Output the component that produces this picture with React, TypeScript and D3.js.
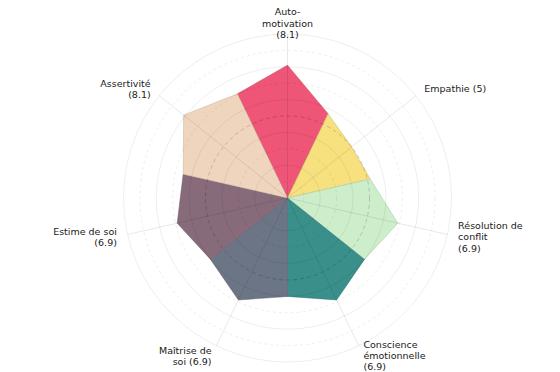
import React from 'react';
import * as d3 from 'd3';

// one wedge per competence, clockwise from the top
const categories = [
  'Auto-motivation',
  'Empathie',
  'Résolution de conflit',
  'Conscience émotionnelle',
  'Maîtrise de soi',
  'Estime de soi',
  'Assertivité',
];
const scores = [8.1, 5, 6.9, 6.9, 6.9, 6.9, 8.1];
const colors = ['#ee5577', '#f7e07e', '#cdeecb', '#3a8f8a', '#6c7586', '#876b7a', '#f0d5be'];
const rings = [1, 2, 3, 4, 5, 6, 7, 8, 9, 10];

const size = { width: 560, height: 372, cx: 287.5, cy: 198, radius: 164, labelRadius: 175 };
const notch = 0.87; // wedges meet a bit inside the straight chord

// wrap name at ~13 chars, then put the score on the last line if it fits
function wrapLabel(name: string, value: number): string[] {
  const words = name.replace(/-/g, '- ').split(' ').filter(Boolean);
  const lines: string[] = [];
  let cur = '';
  words.forEach(w => {
    const sep = cur === '' || cur.endsWith('-') ? '' : ' ';
    if ((cur + sep + w).length <= 13) cur = cur + sep + w;
    else {
      lines.push(cur);
      cur = w;
    }
  });
  lines.push(cur);
  const tail = `(${value})`;
  const last = lines[lines.length - 1];
  if ((last + ' ' + tail).length <= 12) lines[lines.length - 1] = last + ' ' + tail;
  else lines.push(tail);
  return lines;
}

function App() {
  const n = categories.length;
  const step = (2 * Math.PI) / n;
  const r = d3.scaleLinear().domain([0, 10]).range([0, size.radius]);
  const angle = d3.scaleLinear().domain([0, n]).range([0, 2 * Math.PI]);

  const radial = d3
    .lineRadial<[number, number]>()
    .angle(d => d[0])
    .radius(d => d[1])
    .curve(d3.curveLinearClosed);

  const wedges = scores.map((v, i) => {
    const prev = scores[(i - 1 + n) % n];
    const next = scores[(i + 1) % n];
    const a = angle(i);
    const pts: [number, number][] = [
      [a, 0],
      [a - step / 2, r(((prev + v) / 2) * notch)],
      [a, r(v)],
      [a + step / 2, r(((v + next) / 2) * notch)],
    ];
    return radial(pts)!;
  });

  const fontSize = 9.5;
  const lineH = 11.2;

  return (
    <svg
      width={size.width}
      height={size.height}
      style={{ position: 'absolute', left: 0, top: 0, background: '#fff' }}
      fontFamily="DejaVu Sans"
    >
      <g transform={`translate(${size.cx},${size.cy})`}>
        {wedges.map((d, i) => (
          <path
            key={categories[i]}
            d={d}
            fill={colors[i]}
            stroke={d3.color(colors[i])!.darker(0.6).toString()}
            strokeOpacity={0.6}
            strokeWidth={0.8}
            strokeLinejoin="miter"
          />
        ))}

        {rings.map(t => (
          <circle
            key={t}
            r={r(t)}
            fill="none"
            stroke={t === 5 ? 'rgba(0,0,0,0.17)' : 'rgba(0,0,0,0.07)'}
            strokeWidth={1}
            strokeDasharray={t % 2 === 1 ? (t === 5 ? '4,3' : '3,3') : undefined}
          />
        ))}

        {categories.map((c, i) => {
          const a = angle(i);
          return (
            <line
              key={c}
              x1={0}
              y1={0}
              x2={r(10) * Math.sin(a)}
              y2={-r(10) * Math.cos(a)}
              stroke="rgba(0,0,0,0.09)"
              strokeWidth={1}
            />
          );
        })}

        {categories.map((c, i) => {
          const a = angle(i);
          const s = Math.sin(a);
          const x = size.labelRadius * s;
          const y = -size.labelRadius * Math.cos(a);
          const anchor = Math.abs(s) < 0.1 ? 'middle' : s > 0 ? 'start' : 'end';
          const lines = wrapLabel(c, scores[i]);
          const y0 = y - ((lines.length - 1) * lineH) / 2;
          return (
            <text key={c} x={x} y={y0} textAnchor={anchor} fontSize={fontSize} fill="#1a1a1a">
              {lines.map((l, j) => (
                <tspan key={j} x={x} y={y0 + j * lineH} dominantBaseline="central">
                  {l}
                </tspan>
              ))}
            </text>
          );
        })}
      </g>
    </svg>
  );
}

export default App;
